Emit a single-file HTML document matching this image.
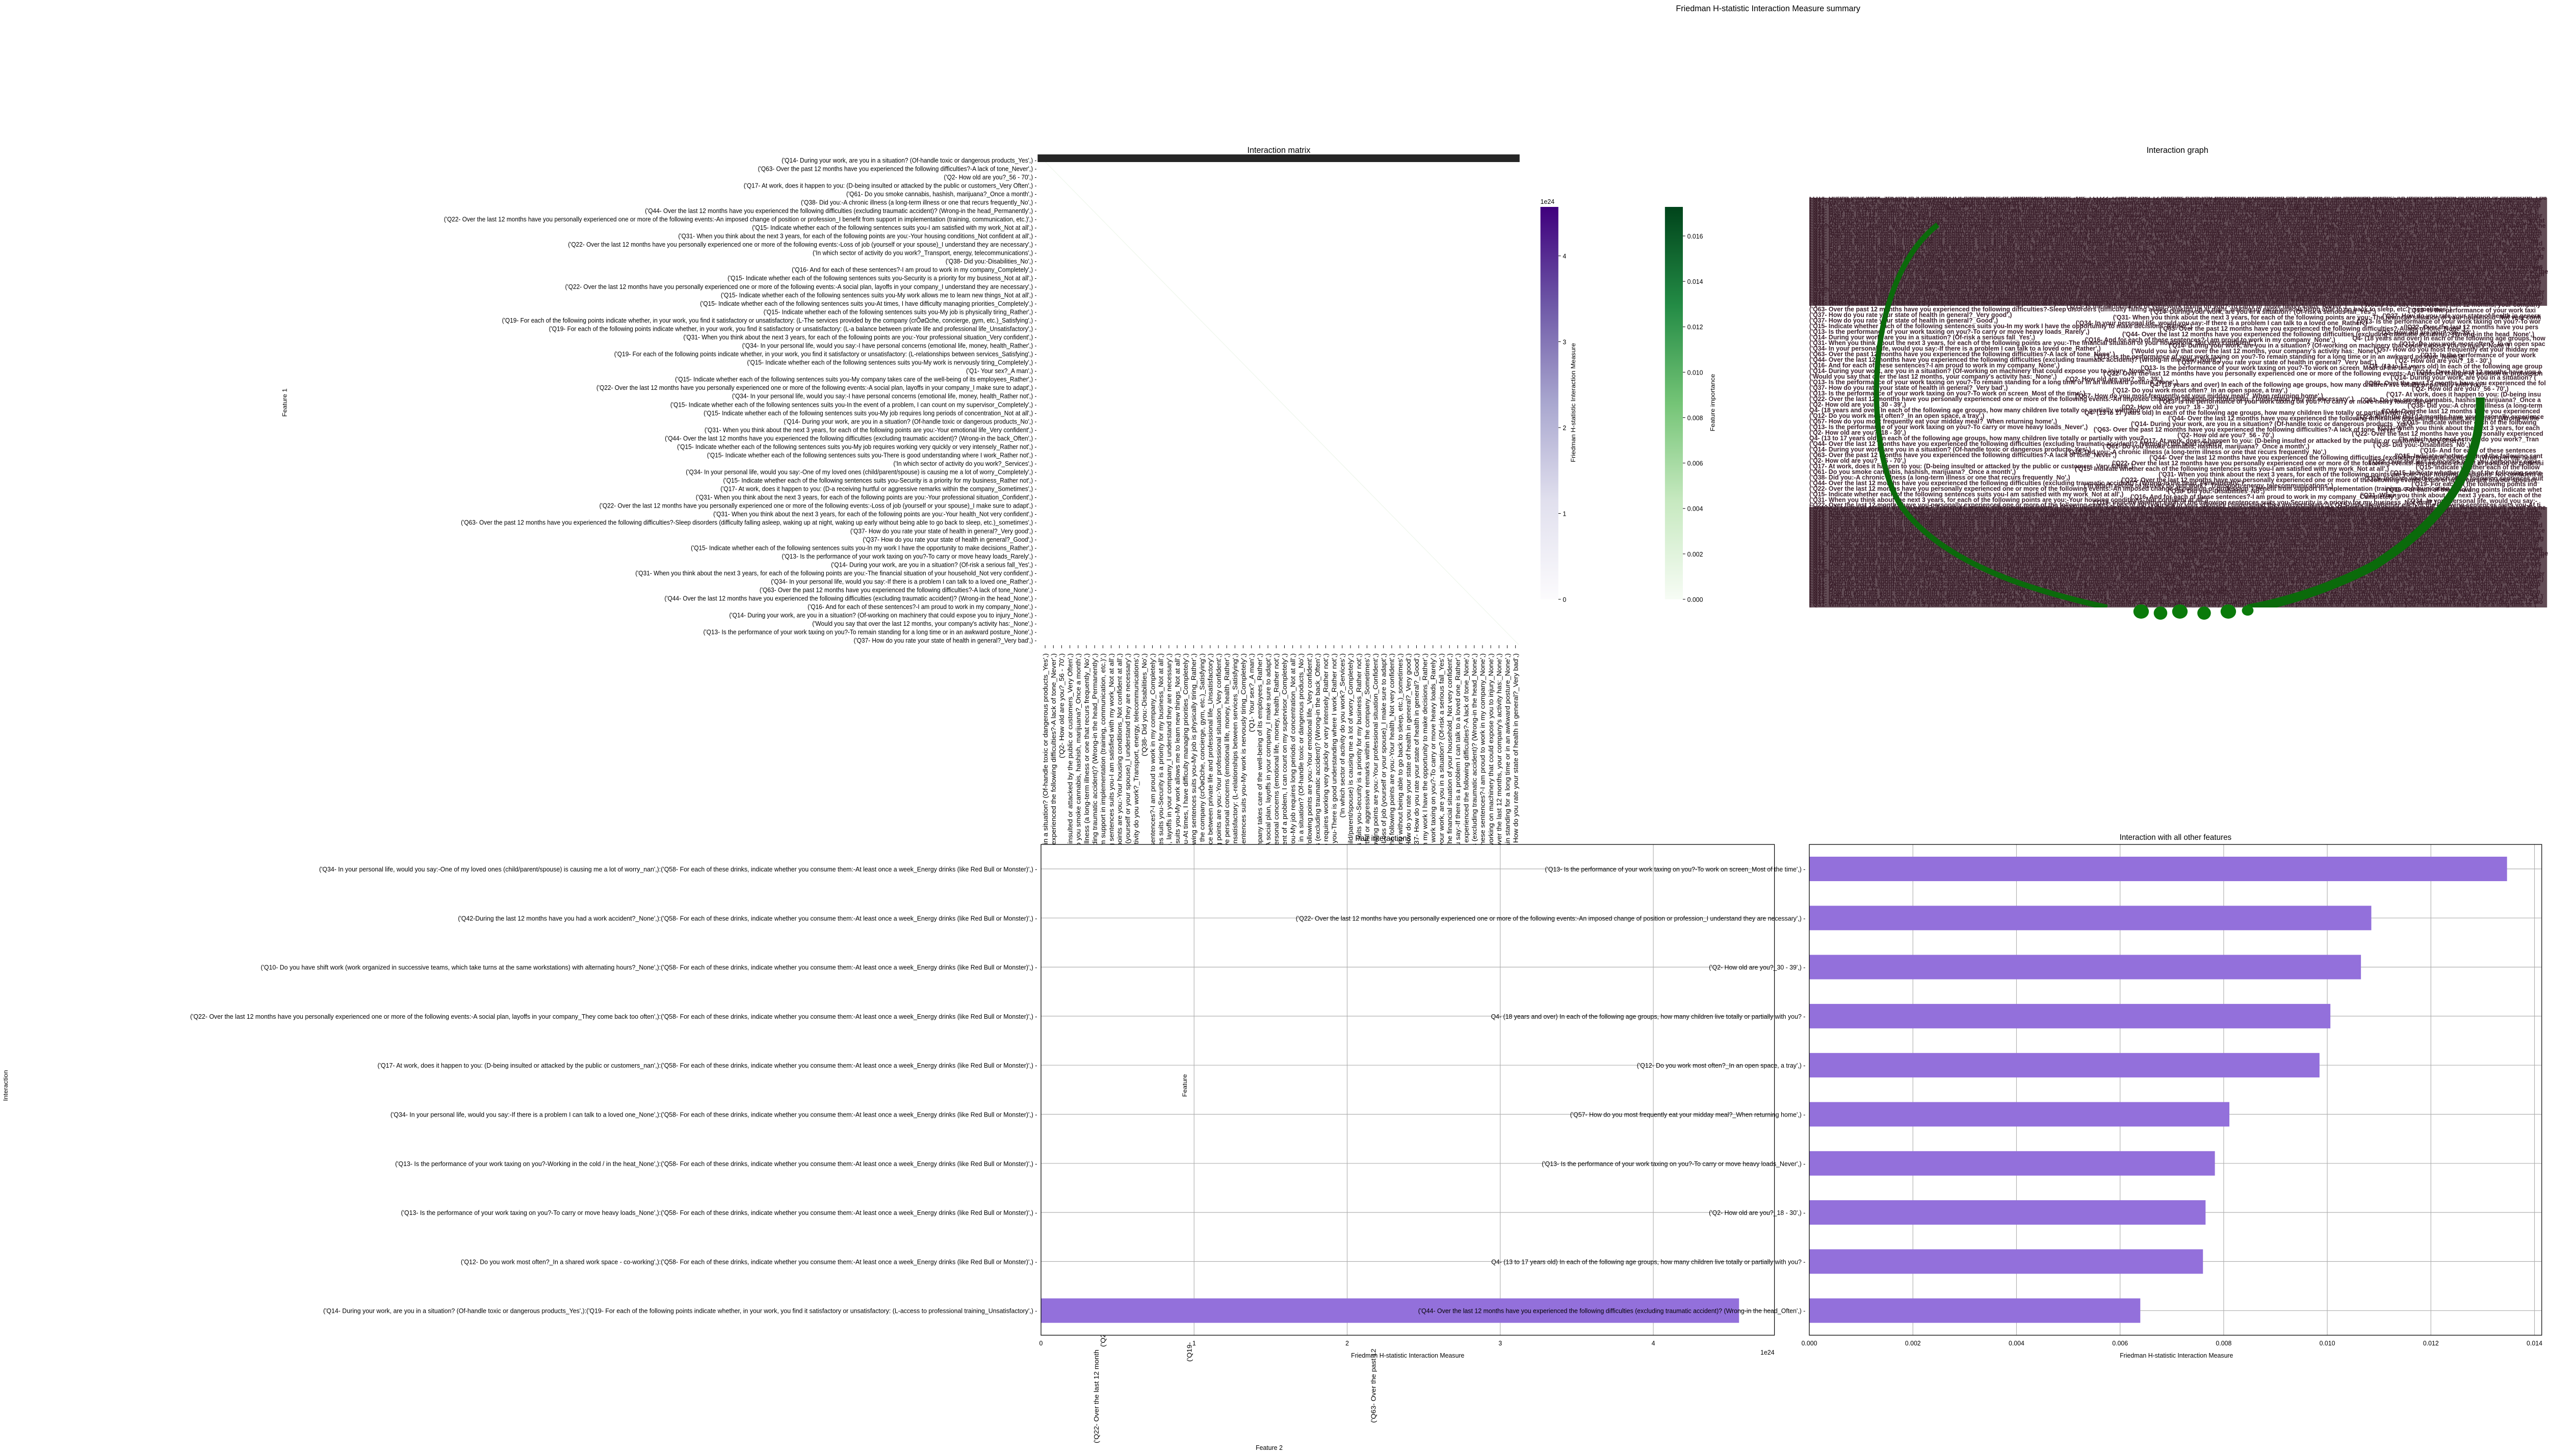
<!DOCTYPE html>
<html><head><meta charset="utf-8"><title>Friedman H-statistic Interaction Measure summary</title>
<style>html,body{margin:0;padding:0;background:#fff;width:100%;height:100%;overflow:hidden;}svg{display:block;overflow:hidden;position:absolute;left:0;top:0;}text{font-family:"Liberation Sans","DejaVu Sans",sans-serif;}</style>
</head><body>
<svg id="fig" xmlns="http://www.w3.org/2000/svg" width="100%" height="100%" style="width:100vw;height:100vh" viewBox="0 0 5262 2857" preserveAspectRatio="none">
<defs>
<linearGradient id="gPurple" x1="0" y1="1" x2="0" y2="0"><stop offset="0" stop-color="#fcfbfd"/><stop offset="0.25" stop-color="#e1e0ee"/><stop offset="0.5" stop-color="#a9a7cf"/><stop offset="0.75" stop-color="#6e58a7"/><stop offset="1" stop-color="#3f007d"/></linearGradient>
<linearGradient id="gGreen" x1="0" y1="1" x2="0" y2="0"><stop offset="0" stop-color="#f7fcf5"/><stop offset="0.25" stop-color="#c7e9c0"/><stop offset="0.5" stop-color="#74c476"/><stop offset="0.75" stop-color="#238b45"/><stop offset="1" stop-color="#00441b"/></linearGradient>
<clipPath id="graphClip"><rect x="3735" y="386" width="1527" height="806"/></clipPath>
<clipPath id="pageClip"><rect x="0" y="0" width="5262" height="2857"/></clipPath>
</defs>
<g clip-path="url(#pageClip)">
<text x="3650" y="22" font-size="17" text-anchor="middle">Friedman H-statistic Interaction Measure summary</text>

<g id="matrix">
<text x="2640" y="300" font-size="17" text-anchor="middle">Interaction matrix</text>
<line x1="2150" y1="310" x2="3135" y2="1265" stroke="#eef6eb" stroke-width="1.2"/>
<rect x="2142" y="303" width="995" height="15" fill="#262626"/>
<g id="matrixY"></g>
<g id="matrixX"></g>
<text transform="translate(592,790) rotate(-90)" font-size="13" text-anchor="middle" font-family="DejaVu Sans">Feature 1</text>
<text x="2620" y="2845" font-size="13" text-anchor="middle" font-family="DejaVu Sans">Feature 2</text>
</g>

<g>
<rect x="3180" y="406" width="37" height="770" fill="url(#gPurple)"/>
<text x="3180" y="400" font-size="13">1e24</text>
<g id="cbP"></g>
<text transform="translate(3252,790) rotate(-90)" font-size="13" text-anchor="middle" font-family="DejaVu Sans">Friedman H-statistic Interaction Measure</text>
</g>
<g>
<rect x="3437" y="406" width="37" height="770" fill="url(#gGreen)"/>
<g id="cbG"></g>
<text transform="translate(3540,790) rotate(-90)" font-size="13" text-anchor="middle" font-family="DejaVu Sans">Feature importance</text>
</g>

<g>
<text x="4495" y="300" font-size="17" text-anchor="middle">Interaction graph</text>
<g clip-path="url(#graphClip)">
<rect x="3735" y="388" width="1523" height="212" fill="#3b1f2b" opacity="0.8"/>
<rect x="3735" y="995" width="1523" height="197" fill="#3b1f2b" opacity="0.8"/>
<g id="graphText"></g>
<path d="M4000,441 C3840,560 3850,900 3930,1000 C4020,1110 4200,1160 4350,1192" fill="none" stroke="#0b6a0b" stroke-width="11"/>
<path d="M5120,780 C5125,950 5000,1050 4900,1110 C4800,1160 4700,1185 4640,1195" fill="none" stroke="#0b6a0b" stroke-width="18"/>
</g>
<g fill="#0a7a0a">
<ellipse cx="4420" cy="1200" rx="16" ry="14"/>
<ellipse cx="4460" cy="1203" rx="14" ry="13"/>
<ellipse cx="4500" cy="1200" rx="16" ry="14"/>
<ellipse cx="4550" cy="1203" rx="14" ry="13"/>
<ellipse cx="4600" cy="1200" rx="16" ry="14"/>
<ellipse cx="4640" cy="1198" rx="12" ry="10"/>
</g>
</g>

<g>
<rect x="2149" y="1657" width="1514" height="963" fill="#fff"/>
<g id="pairGrid"></g>
<g id="pairBars"></g>
<rect x="2149" y="1657" width="1514" height="963" fill="none" stroke="#000" stroke-width="1.3"/>
<text x="2855" y="1650" font-size="16" text-anchor="middle">Pair interactions</text>
<text x="2906" y="2664" font-size="13" text-anchor="middle">Friedman H-statistic Interaction Measure</text>
<text x="3663" y="2658" font-size="13" text-anchor="end">1e24</text>
<text transform="translate(16,2130) rotate(-90)" font-size="13" text-anchor="middle" font-family="DejaVu Sans">Interaction</text>
<text transform="translate(2450,2130) rotate(-90)" font-size="13" text-anchor="middle" font-family="DejaVu Sans">Feature</text>
<text transform="translate(2268,2832) rotate(-90)" font-size="14" font-family="DejaVu Sans">('Q22- Over the last 12 month</text>
<text transform="translate(2460,2672) rotate(-90)" font-size="14" font-family="DejaVu Sans">('Q19-</text>
<text transform="translate(2840,2792) rotate(-90)" font-size="14" font-family="DejaVu Sans">('Q63- Over the past 12</text>
</g>

<g>
<g id="allGrid"></g>
<g id="allBars"></g>
<rect x="3735" y="1657" width="1512" height="963" fill="none" stroke="#000" stroke-width="1.3"/>
<text x="4491" y="1648" font-size="16" text-anchor="middle">Interaction with all other features</text>
<text x="4493" y="2664" font-size="13" text-anchor="middle">Friedman H-statistic Interaction Measure</text>
</g>
</g>

<script>
var pairLabels = [
"('Q34- In your personal life, would you say:-One of my loved ones (child/parent/spouse) is causing me a lot of worry_nan',):('Q58- For each of these drinks, indicate whether you consume them:-At least once a week_Energy drinks (like Red Bull or Monster)',)",
"('Q42-During the last 12 months have you had a work accident?_None',):('Q58- For each of these drinks, indicate whether you consume them:-At least once a week_Energy drinks (like Red Bull or Monster)',)",
"('Q10- Do you have shift work (work organized in successive teams, which take turns at the same workstations) with alternating hours?_None',):('Q58- For each of these drinks, indicate whether you consume them:-At least once a week_Energy drinks (like Red Bull or Monster)',)",
"('Q22- Over the last 12 months have you personally experienced one or more of the following events:-A social plan, layoffs in your company_They come back too often',):('Q58- For each of these drinks, indicate whether you consume them:-At least once a week_Energy drinks (like Red Bull or Monster)',)",
"('Q17- At work, does it happen to you: (D-being insulted or attacked by the public or customers_nan',):('Q58- For each of these drinks, indicate whether you consume them:-At least once a week_Energy drinks (like Red Bull or Monster)',)",
"('Q34- In your personal life, would you say:-If there is a problem I can talk to a loved one_None',):('Q58- For each of these drinks, indicate whether you consume them:-At least once a week_Energy drinks (like Red Bull or Monster)',)",
"('Q13- Is the performance of your work taxing on you?-Working in the cold / in the heat_None',):('Q58- For each of these drinks, indicate whether you consume them:-At least once a week_Energy drinks (like Red Bull or Monster)',)",
"('Q13- Is the performance of your work taxing on you?-To carry or move heavy loads_None',):('Q58- For each of these drinks, indicate whether you consume them:-At least once a week_Energy drinks (like Red Bull or Monster)',)",
"('Q12- Do you work most often?_In a shared work space - co-working',):('Q58- For each of these drinks, indicate whether you consume them:-At least once a week_Energy drinks (like Red Bull or Monster)',)",
"('Q14- During your work, are you in a situation? (Of-handle toxic or dangerous products_Yes',):('Q19- For each of the following points indicate whether, in your work, you find it satisfactory or unsatisfactory: (L-access to professional training_Unsatisfactory',)"
];
var pairValues = [0.0008, 0.0007, 0.0007, 0.0006, 0.0006, 0.0005, 0.0005, 0.0005, 0.0004, 4.56];
var pairTicks = [0, 1, 2, 3, 4];

var allLabels = [
"('Q13- Is the performance of your work taxing on you?-To work on screen_Most of the time',)",
"('Q22- Over the last 12 months have you personally experienced one or more of the following events:-An imposed change of position or profession_I understand they are necessary',)",
"('Q2- How old are you?_30 - 39',)",
"Q4- (18 years and over) In each of the following age groups, how many children live totally or partially with you?",
"('Q12- Do you work most often?_In an open space, a tray',)",
"('Q57- How do you most frequently eat your midday meal?_When returning home',)",
"('Q13- Is the performance of your work taxing on you?-To carry or move heavy loads_Never',)",
"('Q2- How old are you?_18 - 30',)",
"Q4- (13 to 17 years old) In each of the following age groups, how many children live totally or partially with you?",
"('Q44- Over the last 12 months have you experienced the following difficulties (excluding traumatic accident)? (Wrong-in the head_Often',)"
];
var allValues = [0.01347, 0.01085, 0.01065, 0.01006, 0.00985, 0.00811, 0.00783, 0.00765, 0.00760, 0.00639];
var allTicks = [0, 0.002, 0.004, 0.006, 0.008, 0.010, 0.012, 0.014];

var hstatTicks = [0, 1, 2, 3, 4];
var importanceTicks = [0, 0.002, 0.004, 0.006, 0.008, 0.010, 0.012, 0.014, 0.016];

var featureLabels = [
"('Q14- During your work, are you in a situation? (Of-handle toxic or dangerous products_Yes',)",
"('Q63- Over the past 12 months have you experienced the following difficulties?-A lack of tone_Never',)",
"('Q2- How old are you?_56 - 70',)",
"('Q17- At work, does it happen to you: (D-being insulted or attacked by the public or customers_Very Often',)",
"('Q61- Do you smoke cannabis, hashish, marijuana?_Once a month',)",
"('Q38- Did you:-A chronic illness (a long-term illness or one that recurs frequently_No',)",
"('Q44- Over the last 12 months have you experienced the following difficulties (excluding traumatic accident)? (Wrong-in the head_Permanently',)",
"('Q22- Over the last 12 months have you personally experienced one or more of the following events:-An imposed change of position or profession_I benefit from support in implementation (training, communication, etc.)',)",
"('Q15- Indicate whether each of the following sentences suits you-I am satisfied with my work_Not at all',)",
"('Q31- When you think about the next 3 years, for each of the following points are you:-Your housing conditions_Not confident at all',)",
"('Q22- Over the last 12 months have you personally experienced one or more of the following events:-Loss of job (yourself or your spouse)_I understand they are necessary',)",
"('In which sector of activity do you work?_Transport, energy, telecommunications',)",
"('Q38- Did you:-Disabilities_No',)",
"('Q16- And for each of these sentences?-I am proud to work in my company_Completely',)",
"('Q15- Indicate whether each of the following sentences suits you-Security is a priority for my business_Not at all',)",
"('Q22- Over the last 12 months have you personally experienced one or more of the following events:-A social plan, layoffs in your company_I understand they are necessary',)",
"('Q15- Indicate whether each of the following sentences suits you-My work allows me to learn new things_Not at all',)",
"('Q15- Indicate whether each of the following sentences suits you-At times, I have difficulty managing priorities_Completely',)",
"('Q15- Indicate whether each of the following sentences suits you-My job is physically tiring_Rather',)",
"('Q19- For each of the following points indicate whether, in your work, you find it satisfactory or unsatisfactory: (L-The services provided by the company (crÔøΩche, concierge, gym, etc.)_Satisfying',)",
"('Q19- For each of the following points indicate whether, in your work, you find it satisfactory or unsatisfactory: (L-a balance between private life and professional life_Unsatisfactory',)",
"('Q31- When you think about the next 3 years, for each of the following points are you:-Your professional situation_Very confident',)",
"('Q34- In your personal life, would you say:-I have personal concerns (emotional life, money, health_Rather',)",
"('Q19- For each of the following points indicate whether, in your work, you find it satisfactory or unsatisfactory: (L-relationships between services_Satisfying',)",
"('Q15- Indicate whether each of the following sentences suits you-My work is nervously tiring_Completely',)",
"('Q1- Your sex?_A man',)",
"('Q15- Indicate whether each of the following sentences suits you-My company takes care of the well-being of its employees_Rather',)",
"('Q22- Over the last 12 months have you personally experienced one or more of the following events:-A social plan, layoffs in your company_I make sure to adapt',)",
"('Q34- In your personal life, would you say:-I have personal concerns (emotional life, money, health_Rather not',)",
"('Q15- Indicate whether each of the following sentences suits you-In the event of a problem, I can count on my supervisor_Completely',)",
"('Q15- Indicate whether each of the following sentences suits you-My job requires long periods of concentration_Not at all',)",
"('Q14- During your work, are you in a situation? (Of-handle toxic or dangerous products_No',)",
"('Q31- When you think about the next 3 years, for each of the following points are you:-Your emotional life_Very confident',)",
"('Q44- Over the last 12 months have you experienced the following difficulties (excluding traumatic accident)? (Wrong-in the back_Often',)",
"('Q15- Indicate whether each of the following sentences suits you-My job requires working very quickly or very intensely_Rather not',)",
"('Q15- Indicate whether each of the following sentences suits you-There is good understanding where I work_Rather not',)",
"('In which sector of activity do you work?_Services',)",
"('Q34- In your personal life, would you say:-One of my loved ones (child/parent/spouse) is causing me a lot of worry_Completely',)",
"('Q15- Indicate whether each of the following sentences suits you-Security is a priority for my business_Rather not',)",
"('Q17- At work, does it happen to you: (D-a receiving hurtful or aggressive remarks within the company_Sometimes',)",
"('Q31- When you think about the next 3 years, for each of the following points are you:-Your professional situation_Confident',)",
"('Q22- Over the last 12 months have you personally experienced one or more of the following events:-Loss of job (yourself or your spouse)_I make sure to adapt',)",
"('Q31- When you think about the next 3 years, for each of the following points are you:-Your health_Not very confident',)",
"('Q63- Over the past 12 months have you experienced the following difficulties?-Sleep disorders (difficulty falling asleep, waking up at night, waking up early without being able to go back to sleep, etc.)_sometimes',)",
"('Q37- How do you rate your state of health in general?_Very good',)",
"('Q37- How do you rate your state of health in general?_Good',)",
"('Q15- Indicate whether each of the following sentences suits you-In my work I have the opportunity to make decisions_Rather',)",
"('Q13- Is the performance of your work taxing on you?-To carry or move heavy loads_Rarely',)",
"('Q14- During your work, are you in a situation? (Of-risk a serious fall_Yes',)",
"('Q31- When you think about the next 3 years, for each of the following points are you:-The financial situation of your household_Not very confident',)",
"('Q34- In your personal life, would you say:-If there is a problem I can talk to a loved one_Rather',)",
"('Q63- Over the past 12 months have you experienced the following difficulties?-A lack of tone_None',)",
"('Q44- Over the last 12 months have you experienced the following difficulties (excluding traumatic accident)? (Wrong-in the head_None',)",
"('Q16- And for each of these sentences?-I am proud to work in my company_None',)",
"('Q14- During your work, are you in a situation? (Of-working on machinery that could expose you to injury_None',)",
"('Would you say that over the last 12 months, your company's activity has:_None',)",
"('Q13- Is the performance of your work taxing on you?-To remain standing for a long time or in an awkward posture_None',)",
"('Q37- How do you rate your state of health in general?_Very bad',)"
];

var NS = "http://www.w3.org/2000/svg";
function mk(parent, tag, attrs, txt) {
  var e = document.createElementNS(NS, tag);
  for (var k in attrs) e.setAttribute(k, attrs[k]);
  if (txt !== undefined) e.textContent = txt;
  parent.appendChild(e);
  return e;
}

var gy = document.getElementById('matrixY');
var gx = document.getElementById('matrixX');
var nF = featureLabels.length;
var rowH = 959 / nF, colW = 988 / nF;
for (var i = 0; i < nF; i++) {
  var t = mk(gy, 'text', {x: 2140, y: 306 + (i + 0.5) * rowH + 4.5, 'font-size': 12.5, 'text-anchor': 'end'}, featureLabels[i] + ' -');
  
  
  var cx = 2149 + (i + 0.5) * colW;
  var tk = mk(gx, 'line', {x1: cx, y1: 1266, x2: cx, y2: 1272, stroke: '#000', 'stroke-width': 1});
  
  
  var tx = mk(gx, 'text', {transform: 'translate(' + (cx + 5) + ',1282) rotate(-90)', 'font-size': 14, 'text-anchor': 'end', 'font-family': 'DejaVu Sans'}, featureLabels[i]);
  
  
}

var cbP = document.getElementById('cbP');
var pScale = function (v) { return 1176 - v * 168.5; };
hstatTicks.forEach(function (v) {
  var l = mk(cbP, 'line', {x1: 3217, y1: pScale(v), x2: 3222, y2: pScale(v), stroke: '#000'});
  
  
  var t = mk(cbP, 'text', {x: 3226, y: pScale(v) + 5, 'font-size': 13}, String(v));
  
  
});
var cbG = document.getElementById('cbG');
var gScale = function (v) { return 1176 - v * 44562; };
importanceTicks.forEach(function (v) {
  var l = mk(cbG, 'line', {x1: 3474, y1: gScale(v), x2: 3479, y2: gScale(v), stroke: '#000'});
  
  
  var t = mk(cbG, 'text', {x: 3483, y: gScale(v) + 5, 'font-size': 13}, v.toFixed(3));
  
  
});

var gt = document.getElementById('graphText');
var pool = featureLabels.concat(allLabels);
var XMAX = 5258;
function fitText(x, y, s) {
  var t = mk(gt, 'text', {x: x, y: y, 'font-size': 13, 'font-weight': 'bold', fill: '#3b1f2b'}, s);
  
  
  var avail = XMAX - x;
  var w = t.getComputedTextLength ? t.getComputedTextLength() : s.length * 7.5;
  if (w > avail) {
    var n = Math.max(1, Math.floor(s.length * avail / w) - 2);
    t.textContent = s.slice(0, n);
  }
  return t;
}
function denseRow(y, k) {
  var x = 3735;
  var j = 0;
  while (x < XMAX - 20 && j < 6) {
    var s = pool[(k + j * 7) % pool.length];
    var t = fitText(x, y, s);
    var w = t.getComputedTextLength ? t.getComputedTextLength() : s.length * 7.5;
    x += w + 4;
    j++;
  }
}
var row = 0;
for (var y = 392; y < 600; y += 5) { denseRow(y, row); row++; }
for (var y2 = 600; y2 < 995; y2 += 11) {
  fitText(3735, y2, pool[row % pool.length]);
  fitText(4250 + (row * 173) % 250, y2 + 5, pool[(row + 5) % pool.length]);
  fitText(4850 + (row * 97) % 150, y2 + 2, pool[(row + 13) % pool.length]);
  row++;
}
for (var y3 = 995; y3 < 1195; y3 += 5) { denseRow(y3, row); row++; }

var pX0 = 2149, pPx = 316, rowY0 = 1705, rowStep = 96.3, barH = 48;
function pairX(v) { return pX0 + v * pPx; }
var pg = document.getElementById('pairGrid');
var pb = document.getElementById('pairBars');
pairTicks.forEach(function (v) {
  var l = mk(pg, 'line', {x1: pairX(v), y1: 1657, x2: pairX(v), y2: 2620, stroke: '#b0b0b0', 'stroke-width': 1.2});
  
  
  var t = mk(pg, 'text', {x: pairX(v), y: 2640, 'font-size': 13, 'text-anchor': 'middle'}, String(v));
  
  
});
pairValues.forEach(function (v, i) {
  var cy = rowY0 + i * rowStep;
  var l = mk(pg, 'line', {x1: 2149, y1: cy, x2: 3663, y2: cy, stroke: '#b0b0b0', 'stroke-width': 1.2});
  
  
  var r = mk(pb, 'rect', {x: pairX(0), y: cy - barH / 2, width: pairX(v) - pairX(0), height: barH, fill: '#9370db'});
  
  
  var t = mk(pb, 'text', {x: 2141, y: cy + 5, 'font-size': 13, 'text-anchor': 'end'}, pairLabels[i] + ' -');
  
  
});

var aX0 = 3735, aPx = 106930;
function allX(v) { return aX0 + v * aPx; }
var ag = document.getElementById('allGrid');
var ab = document.getElementById('allBars');
allTicks.forEach(function (v) {
  var l = mk(ag, 'line', {x1: allX(v), y1: 1657, x2: allX(v), y2: 2620, stroke: '#b0b0b0', 'stroke-width': 1.2});
  
  
  var t = mk(ag, 'text', {x: allX(v), y: 2640, 'font-size': 13, 'text-anchor': 'middle'}, v.toFixed(3));
  
  
});
allValues.forEach(function (v, i) {
  var cy = rowY0 + i * rowStep;
  var l = mk(ag, 'line', {x1: 3735, y1: cy, x2: 5247, y2: cy, stroke: '#b0b0b0', 'stroke-width': 1.2});
  
  
  var r = mk(ab, 'rect', {x: allX(0), y: cy - barH / 2, width: allX(v) - allX(0), height: barH, fill: '#9370db'});
  
  
  var t = mk(ab, 'text', {x: 3727, y: cy + 5, 'font-size': 13, 'text-anchor': 'end'}, allLabels[i] + ' -');
  
  
});
</script>
</svg>
</body></html>
